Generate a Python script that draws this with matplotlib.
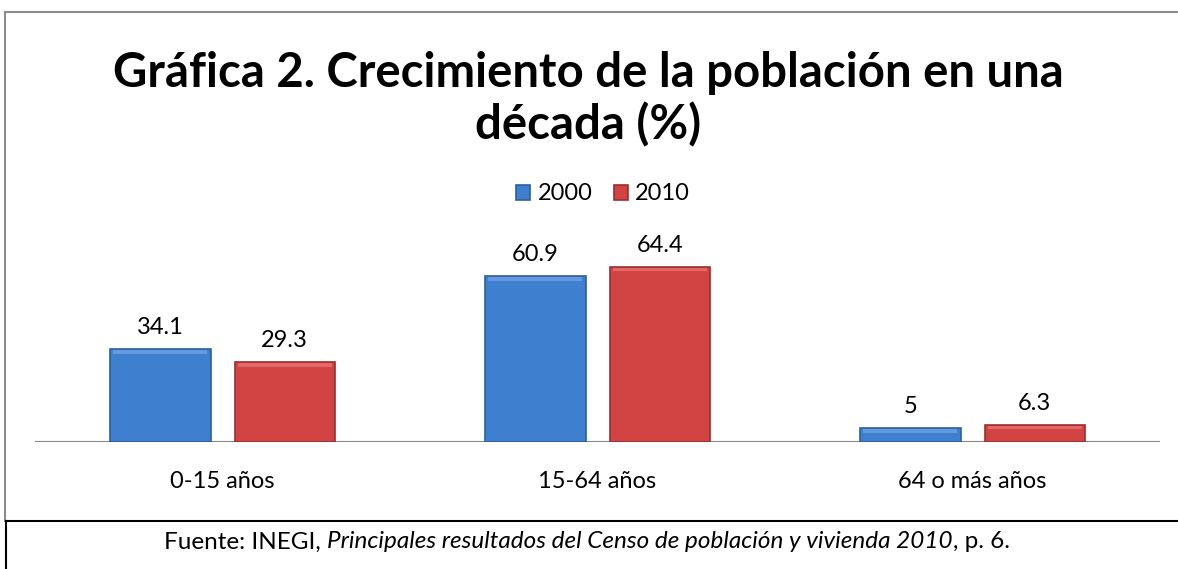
import matplotlib
matplotlib.use("Agg")
import matplotlib.pyplot as plt
from matplotlib.lines import Line2D
import numpy as np

# data
categories = ["0-15 años", "15-64 años", "64 o más años"]
series_names = ["2000", "2010"]
values_2000 = [34.1, 60.9, 5]
values_2010 = [29.3, 64.4, 6.3]
value_labels_2000 = ["34.1", "60.9", "5"]
value_labels_2010 = ["29.3", "64.4", "6.3"]

title = "Gráfica 2. Crecimiento de la población en una\ndécada (%)"
footer_parts = [
    ("Fuente: INEGI, ", "normal"),
    ("Principales resultados del Censo de población y vivienda 2010", "italic"),
    (", p. 6.", "normal"),
]

blue = "#3f7fcf"
blue_edge = "#2e5f9e"
red = "#d24444"
red_edge = "#9c2f2f"

plt.rcParams["font.family"] = ["Lato", "DejaVu Sans"]

W, H = 1178, 569
fig = plt.figure(figsize=(W / 100, H / 100), dpi=100)


def fx(px):
    return px / W


def fy(py):
    return 1 - py / H


# axes placement (pixel coords from reference)
ymax = 70
base_px, top_px = 442, 442 - 2.72 * ymax
ax = fig.add_axes([fx(35), fy(base_px), fx(1160) - fx(35), fy(top_px) - fy(base_px)])

x = np.arange(len(categories))
width = 0.267
gap = 0.064
off = (width + gap) / 2

b1 = ax.bar(x - off, values_2000, width, color=blue, edgecolor=blue_edge, linewidth=1.2, label=series_names[0])
b2 = ax.bar(x + off, values_2010, width, color=red, edgecolor=red_edge, linewidth=1.2, label=series_names[1])

# light bevel on top of bars
for bars, col in ((b1, "#6fa3e3"), (b2, "#ec7070")):
    for r in bars:
        h = r.get_height()
        ax.bar(r.get_x() + r.get_width() / 2, min(1.2, h * 0.3), r.get_width() * 0.94,
               bottom=h - min(1.6, h * 0.4), color=col, linewidth=0, alpha=0.8)

for bars, labels in ((b1, value_labels_2000), (b2, value_labels_2010)):
    for r, lab in zip(bars, labels):
        ax.annotate(lab, (r.get_x() + r.get_width() / 2, r.get_height()),
                    xytext=(0, 8), textcoords="offset points", ha="center", va="bottom",
                    fontsize=17, color="#000000")

ax.set_xlim(-0.5, len(categories) - 0.5)
ax.set_ylim(0, ymax)
ax.axis("off")
ax.axhline(0, color="#868686", lw=1.5, zorder=0.5)

for xi, cat in zip(x, categories):
    ax.text(xi, -14.5, cat, ha="center", va="center", fontsize=17, color="#000000")

# title
fig.text(fx(588), fy(99), title, ha="center", va="center", fontsize=34,
         fontweight="bold", linespacing=1.18)

# legend
leg = fig.legend(handles=[b1, b2], labels=series_names, loc="center",
                 bbox_to_anchor=(fx(603), fy(194)), ncol=2, frameon=False,
                 fontsize=17, handlelength=0.6, handleheight=0.6, handletextpad=0.3,
                 columnspacing=0.9)

# frame lines
fig.add_artist(Line2D([fx(5), fx(5)], [fy(12), fy(521)], color="#8c8c8c", lw=1.5))
fig.add_artist(Line2D([fx(5), 1], [fy(12), fy(12)], color="#8c8c8c", lw=1.5))
fig.add_artist(Line2D([fx(6), 1], [fy(521), fy(521)], color="#000000", lw=1.5))
fig.add_artist(Line2D([fx(6), fx(6)], [fy(521), 0], color="#000000", lw=1.5))

# footer with mixed styles
renderer = fig.canvas.get_renderer()
texts = []
for s, style in footer_parts:
    t = fig.text(0, fy(542), s, fontsize=17.5, style=style, ha="left", va="center")
    texts.append(t)
widths = [t.get_window_extent(renderer).width for t in texts]
total = sum(widths)
cur = 587 - total / 2
for t, w in zip(texts, widths):
    t.set_x(fx(cur))
    cur += w

fig.savefig("out.png", dpi=100)
